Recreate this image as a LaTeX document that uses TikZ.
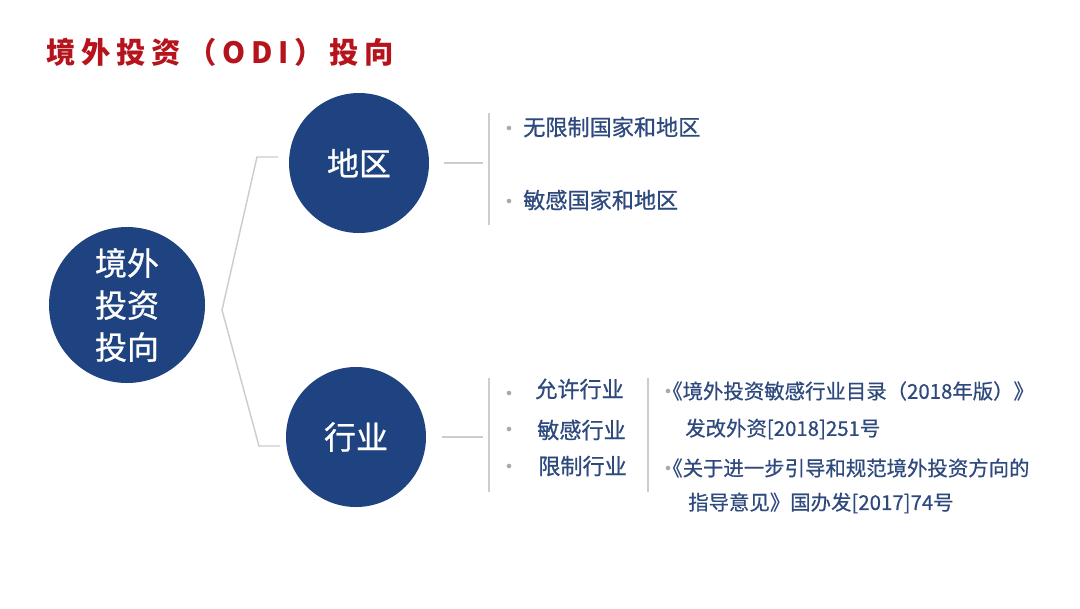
\documentclass[tikz,border=0pt]{standalone}
\usepackage{fontspec}
\setmainfont{Noto Sans CJK SC}
\usetikzlibrary{positioning}
\definecolor{odiblue}{RGB}{31,67,128}
\definecolor{odired}{RGB}{182,20,28}
\definecolor{itemblue}{RGB}{46,74,125}
\definecolor{linegray}{RGB}{205,205,205}
\definecolor{dotgray}{RGB}{170,170,170}
\tikzset{
  ball/.style={circle, fill=odiblue, text=white, inner sep=0pt, minimum size=#1,
    align=center, font=\fontsize{24}{31.5}\selectfont\addfontfeature{FakeBold=0.8}},
  link/.style={draw=linegray, line width=1.1pt},
  item/.style={anchor=west, inner sep=0pt, text=itemblue, font=\fontsize{16.6}{20}\selectfont\addfontfeature{FakeBold=0.8}},
  doc/.style={anchor=west, inner sep=0pt, text=itemblue, font=\fontsize{15.3}{18}\selectfont\addfontfeature{FakeBold=0.6}},
  dot/.style={circle, fill=dotgray, inner sep=0pt, minimum size=3.5pt}
}
\begin{document}
\begin{tikzpicture}[x=0.75pt, y=-0.75pt]
    \useasboundingbox (0,0) rectangle (1080,608);
    % titel
    \node[anchor=west, inner sep=0pt, text=odired, font=\fontsize{22}{24}\selectfont\bfseries\addfontfeature{LetterSpace=20}] (title) at (46,52)
        {境外投资（ODI）投向};

    % kreise
    \node[ball=117pt] (root) at (127,305) {境外\\投资\\投向};
    \node[ball=105pt] (region) at (359,163) {地区};
    \node[ball=105pt] (industry) at (356,437) {行业};

    % verzweigung
    \coordinate (fork) at (222,310);
    \coordinate (forkup) at (257,157);
    \coordinate (regin) at (278,157);
    \coordinate (forkdown) at (259,446);
    \coordinate (indin) at (280,446);
    \draw[link] (regin) -- (forkup) -- (fork) -- (forkdown) -- (indin);

    % gebiet
    \coordinate (regjoin) at (483,163);
    \draw[link] ([xshift=11pt]region.east) -- (regjoin |- region.east);
    \draw[link] (489,113) -- (489,225);
    \node[dot] (regdotA) at (509,128) {};
    \node[dot] (regdotB) at (509,201) {};
    \node[item] (regA) at (523,127) {无限制国家和地区};
    \node[item] (regB) at (523,200) {敏感国家和地区};

    % branche
    \coordinate (indjoin) at (483,437);
    \draw[link] ([xshift=12pt]industry.east) -- (indjoin |- industry.east);
    \draw[link] (489,378) -- (489,492);
    \draw[link] (648,378) -- (648,492);
    \node[dot] (inddotA) at (509,393) {};
    \node[dot] (inddotB) at (509,429) {};
    \node[dot] (inddotC) at (509,466) {};
    \node[item] (indA) at (535,389) {允许行业};
    \node[item] (indB) at (537,430) {敏感行业};
    \node[item] (indC) at (538,466) {限制行业};

    % dokumente
    \node[dot] (docdotA) at (668,391) {};
    \node[dot] (docdotB) at (668,468) {};
    \node[doc] (docA) at (662,391) {《境外投资敏感行业目录（2018年版）》};
    \node[doc] (docAb) at (685,429) {发改外资[2018]251号};
    \node[doc] (docB) at (662,468) {《关于进一步引导和规范境外投资方向的};
    \node[doc] (docBb) at (688,503) {指导意见》国办发[2017]74号};
\end{tikzpicture}
\end{document}
